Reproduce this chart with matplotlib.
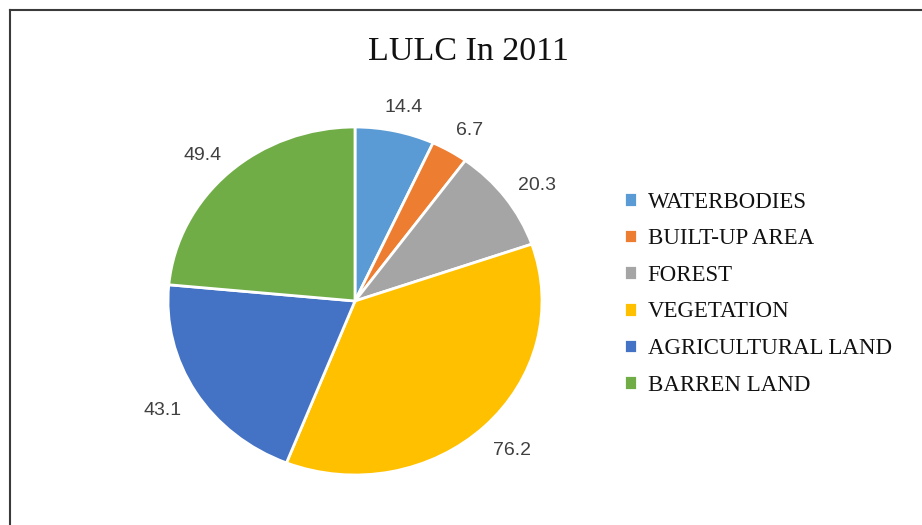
import matplotlib
matplotlib.use("Agg")
import matplotlib.pyplot as plt
from matplotlib.lines import Line2D

categories = ["WATERBODIES", "BUILT-UP AREA", "FOREST", "VEGETATION",
              "AGRICULTURAL LAND", "BARREN LAND"]
values = [14.4, 6.7, 20.3, 76.2, 43.1, 49.4]
colors = ["#5B9BD5", "#ED7D31", "#A5A5A5", "#FFC000", "#4472C4", "#70AD47"]
title = "LULC In 2011"

W, H = 922, 525
fig = plt.figure(figsize=(W / 100, H / 100), dpi=100)
fig.patch.set_facecolor("white")

# pie axes: centre (355, 301) px, radii 187 x 174 px
cx, cy = 355, 301
rx, ry = 187, 174
a = 1.35
aw, ah = 2 * a * rx, 2 * a * ry
left = (cx - aw / 2) / W
bottom = (H - cy - ah / 2) / H
ax = fig.add_axes([left, bottom, aw / W, ah / H])

total = sum(values)
pd = 1.2
wedges, texts, autotexts = ax.pie(
    values, colors=colors, startangle=90, counterclock=False,
    wedgeprops=dict(edgecolor="white", linewidth=2),
    autopct=lambda p: f"{p * total / 100:.1f}", pctdistance=pd,
    textprops=dict(color="#404040", fontsize=14, family="Liberation Sans"))
# labels sit at a near-constant pixel gap outside the edge
for t in autotexts:
    x, y = t.get_position()
    t.set_position((x * 1.21 / pd, y * 1.16 / pd - 4 / ry))
ax.set_aspect("auto")
ax.set_xlim(-a, a)
ax.set_ylim(-a, a)
ax.axis("off")

fig.text(468 / W, 1 - 52 / H, title, ha="center", va="center",
         fontsize=24.5, family="Liberation Serif", color="#111111")

leg = fig.legend(wedges, categories, loc="upper left",
                 bbox_to_anchor=(603 / W, 1 - 171 / H),
                 frameon=False, handlelength=0.6, handleheight=0.6,
                 handletextpad=0.45, labelspacing=0.68,
                 prop=dict(family="Liberation Serif", size=16.5))
for t in leg.get_texts():
    t.set_color("#111111")

# partial frame border (left and top)
fig.add_artist(Line2D([9.5 / W, 9.5 / W], [0, 1 - 9.5 / H], color="#3a3a3a", lw=1.5))
fig.add_artist(Line2D([9.5 / W, 1], [1 - 9.5 / H, 1 - 9.5 / H], color="#3a3a3a", lw=1.5))

fig.savefig("out.png", dpi=100, facecolor="white")
